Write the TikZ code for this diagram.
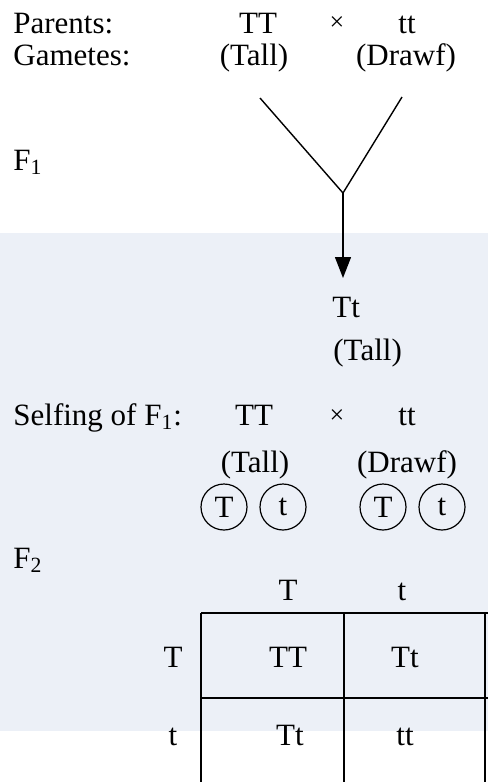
\documentclass[tikz,border=0pt]{standalone}
\usepackage{fontspec}
\setmainfont{Liberation Serif}
\usepackage{tikz}
\usetikzlibrary{positioning,arrows.meta}
\definecolor{bandblue}{RGB}{236,240,247}

\begin{document}
\begin{tikzpicture}[x=0.5pt,y=-0.5pt,font=\fontsize{15.5}{18}\selectfont]
	\tikzstyle{lab}=[inner sep=0pt,anchor=base west]
	\tikzstyle{txt}=[inner sep=0pt,anchor=base]
	\tikzstyle{cross}=[inner sep=0pt,font=\fontsize{13}{15}\selectfont]
	\tikzstyle{gam}=[circle,draw,line width=0.6pt,minimum size=23pt,inner sep=0pt]
	\tikzstyle{grid}=[line width=1.1pt]
		\useasboundingbox (0,0) rectangle (488,782);
		\fill[bandblue] (0,233) rectangle (488,731);
		% parents
		\node[lab] (par) at (13,33) {Parents:};
		\node[txt] (pTT) at (258,33) {TT};
		\node[cross] (px) at (337,24) {×};
		\node[txt] (ptt) at (407,33) {tt};
		\node[lab] (gam) at (13,65) {Gametes:};
		\node[txt] (pTall) at (254,65) {(Tall)};
		\node[txt] (pDwarf) at (406,65) {(Drawf)};
		\node[lab] (f1) at (13,170) {F\textsubscript{1}};
		% cross lines
		\coordinate (ga) at (260,98);
		\coordinate (gb) at (402,97);
		\coordinate (join) at (343,193);
		\coordinate (tip) at (343,278);
			\draw[line width=0.7pt] (ga) -- (join) -- (gb);
			\draw[line width=0.7pt,-{Triangle[width=8pt,length=10.5pt]}] (join) -- (tip);
		\node[lab] (oTt) at (332,317) {Tt};
		\node[lab] (oTall) at (333,360) {(Tall)};
		% selfing
		\node[lab] (self) at (13,425) {Selfing of F\textsubscript{1}:};
		\node[txt] (sTT) at (254,425) {TT};
		\node[cross] (sx) at (337,417) {×};
		\node[txt] (stt) at (407,425) {tt};
		\node[txt] (sTall) at (255,472) {(Tall)};
		\node[txt] (sDwarf) at (407,472) {(Drawf)};
		\node[gam] (g1) at (224,507) {T};
		\node[gam] (g2) at (283,507) {t};
		\node[gam] (g3) at (383,507) {T};
		\node[gam] (g4) at (442,507) {t};
		% F2 square
		\node[lab] (f2) at (13,568) {F\textsubscript{2}};
		\node[txt] (cT) at (288,600) {T};
		\node[txt] (ct) at (402,600) {t};
			\draw[grid] (201,613) -- (488,613);
			\draw[grid] (201,698) -- (488,698);
			\draw[grid] (201,613) -- (201,782);
			\draw[grid] (344,613) -- (344,782);
			\draw[grid] (485,613) -- (485,782);
		\node[txt] (rT) at (173,667) {T};
		\node[txt] (cTT) at (288,667) {TT};
		\node[txt] (cTt) at (405,667) {Tt};
		\node[txt] (rt) at (173,745) {t};
		\node[txt] (ctT) at (290,745) {Tt};
		\node[txt] (ctt) at (405,745) {tt};
\end{tikzpicture}
\end{document}
